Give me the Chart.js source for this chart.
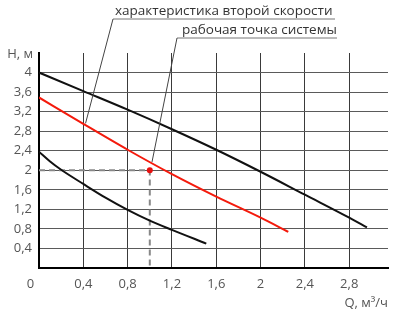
<!DOCTYPE html>
<html>
<head>
<meta charset="utf-8">
<script src="https://cdn.jsdelivr.net/npm/chart.js@4"></script>
<style>
  html, body { margin: 0; padding: 0; background: #fff; }
  #wrap { width: 400px; height: 317px; position: relative; }
</style>
</head>
<body>
<div id="wrap"><canvas id="chart"></canvas></div>
<script>
// кривые насоса, Q в м3/ч, H в м
const topQ = [0, 0.4, 0.8, 1.2, 1.6, 2.0, 2.4, 2.8, 2.96];
const topH = [4.0, 3.62, 3.24, 2.84, 2.42, 1.97, 1.5, 1.03, 0.83];
const redQ = [0, 0.4, 0.8, 1.2, 1.6, 2.0, 2.25];
const redH = [3.49, 2.95, 2.42, 1.92, 1.46, 1.03, 0.74];
const lowQ = [0, 0.1, 0.2, 0.4, 0.6, 0.8, 1.0, 1.2, 1.51];
const lowH = [2.38, 2.18, 2.01, 1.72, 1.44, 1.19, 0.97, 0.78, 0.5];
const pointQ = [1.0];
const pointH = [2.0];
const qTicks = [0, 0.4, 0.8, 1.2, 1.6, 2.0, 2.4, 2.8];
const hTicks = [0, 0.2, 0.4, 0.6, 0.8, 1.0, 1.2, 1.4, 1.6, 1.8, 2.0, 2.2, 2.4, 2.6, 2.8, 3.0, 3.2, 3.4, 3.6, 3.8, 4.0, 4.2];
const notes = ['характеристика второй скорости', 'рабочая точка системы'];
const noteQ = [0.42, 1.02];
const noteH = [2.96, 2.17];

const FONT = "'Open Sans', sans-serif";
const fmt = v => String(Number(v.toFixed(1))).replace('.', ',');
const pts = (xs, ys) => xs.map((x, i) => ({ x: x, y: ys[i] }));

const annotations = {
  id: 'annotations',
  afterDraw(chart) {
    const c = chart.ctx;
    const xs = chart.scales.x, ys = chart.scales.y;
    c.save();
    // подписи осей
    c.fillStyle = '#555';
    c.font = '13px ' + FONT;
    c.textBaseline = 'middle';
    c.textAlign = 'right';
    c.fillText('Н, м', 33, 54);
    c.fillText('Q, м³/ч', 388, 303);
    // выноски
    const textX = [115, 182];
    const textY = [15, 34];
    const lineStart = [113, 177];
    const lineEnd = [335, 337];
    const lineY = [19, 38];
    c.font = '13.5px ' + FONT;
    c.textAlign = 'left';
    c.textBaseline = 'alphabetic';
    for (let i = 0; i < notes.length; i++) {
      c.fillStyle = '#333';
      c.fillText(notes[i], textX[i], textY[i]);
      c.strokeStyle = '#777';
      c.lineWidth = 1;
      c.beginPath();
      c.moveTo(lineStart[i], lineY[i]);
      c.lineTo(lineEnd[i], lineY[i]);
      c.stroke();
      c.strokeStyle = '#444';
      c.beginPath();
      c.moveTo(lineStart[i], lineY[i]);
      c.lineTo(xs.getPixelForValue(noteQ[i]), ys.getPixelForValue(noteH[i]));
      c.stroke();
    }
    c.restore();
  }
};

new Chart(document.getElementById('chart'), {
  type: 'scatter',
  data: {
    datasets: [
      { data: pts(pointQ, pointH), pointRadius: 3, pointBackgroundColor: '#e81010', pointBorderWidth: 0, showLine: false },
      { data: pts(topQ, topH), showLine: true, borderColor: '#111', borderWidth: 2, pointRadius: 0, cubicInterpolationMode: 'monotone' },
      { data: pts(redQ, redH), showLine: true, borderColor: '#f41a0c', borderWidth: 2, pointRadius: 0, cubicInterpolationMode: 'monotone' },
      { data: pts(lowQ, lowH), showLine: true, borderColor: '#111', borderWidth: 2, pointRadius: 0, cubicInterpolationMode: 'monotone' },
      { data: [{ x: 0, y: pointH[0] }, { x: pointQ[0], y: pointH[0] }, { x: pointQ[0], y: 0 }], showLine: true,
        borderColor: '#888', borderWidth: 2, borderDash: [6, 4], pointRadius: 0 }
    ]
  },
  options: {
    responsive: true,
    maintainAspectRatio: false,
    animation: false,
    layout: { padding: { top: 53, right: 12, left: 0, bottom: 0 } },
    plugins: { legend: { display: false }, tooltip: { enabled: false } },
    scales: {
      x: {
        type: 'linear', min: 0, max: 3.15,
        afterBuildTicks: s => { s.ticks = qTicks.map(v => ({ value: v })); },
        afterFit: s => { s.height = 49; },
        grid: { color: '#3a3a3a', lineWidth: 1, drawTicks: false },
        border: { color: '#000', width: 2 },
        ticks: {
          padding: 8, color: '#555', font: { family: FONT, size: 13 },
          callback: v => v === 0 ? '0     ' : fmt(v)
        }
      },
      y: {
        type: 'linear', min: 0, max: 4.4,
        afterBuildTicks: s => { s.ticks = hTicks.map(v => ({ value: v })); },
        afterFit: s => { s.width = 39; },
        grid: { color: '#5a5a5a', lineWidth: 1, drawTicks: false },
        border: { color: '#000', width: 2 },
        ticks: {
          padding: 7, color: '#555', font: { family: FONT, size: 13 },
          callback: (v, i) => (i > 0 && i % 2 === 0) ? fmt(v) : ''
        }
      }
    }
  },
  plugins: [annotations]
});
</script>
</body>
</html>
